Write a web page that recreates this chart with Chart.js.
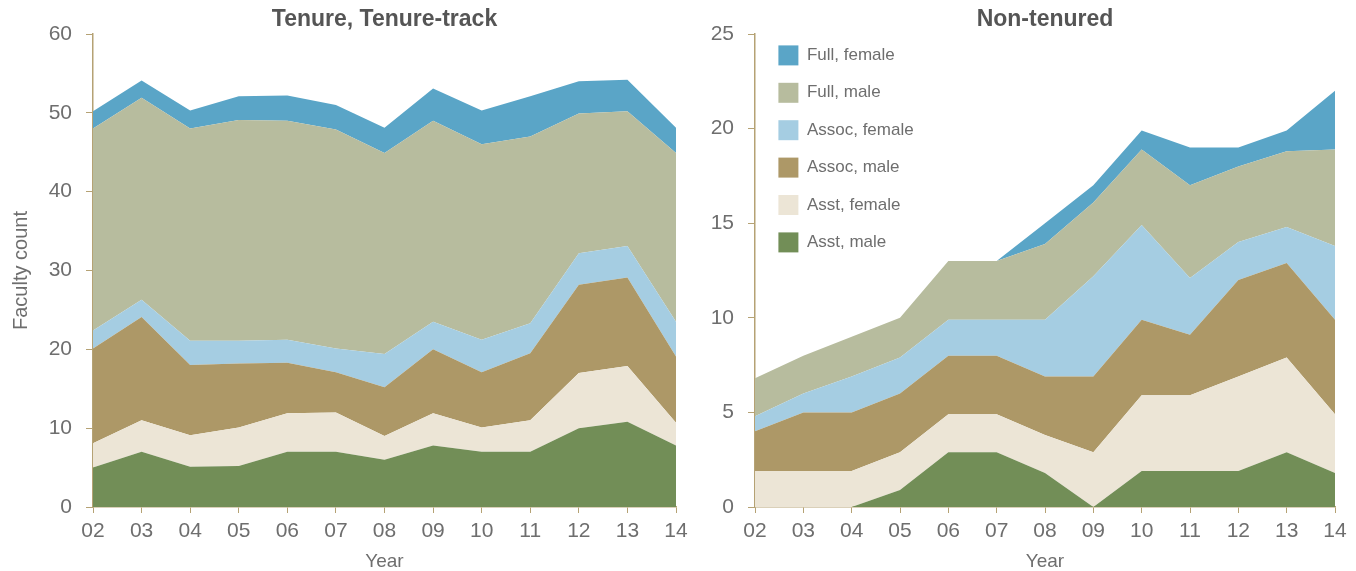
<!DOCTYPE html>
<html>
<head>
<meta charset="utf-8">
<script src="https://cdn.jsdelivr.net/npm/chart.js@4/dist/chart.umd.min.js"></script>
<style>
  html, body { margin: 0; padding: 0; background: #fff; }
  #wrap { position: relative; width: 1356px; height: 571px; }
  #wrap canvas { position: absolute; top: 0; }
</style>
</head>
<body>
<div id="wrap">
  <canvas id="tenured" width="690" height="571" style="left:0"></canvas>
  <canvas id="nontenured" width="666" height="571" style="left:690px"></canvas>
</div>
<script>
const years = ["02", "03", "04", "05", "06", "07", "08", "09", "10", "11", "12", "13", "14"];
const seriesNames = ["Asst, male", "Asst, female", "Assoc, male", "Assoc, female", "Full, male", "Full, female"];
const seriesColors = ["#728e57", "#ece5d6", "#ad9867", "#a5cde2", "#b7bc9e", "#5aa5c7"];

// tenure / tenure-track, bottom layer first
const ttAsstMale = [5, 7, 5.1, 5.2, 7, 7, 6, 7.8, 7, 7, 10, 10.8, 7.8];
const ttAsstFemale = [3.1, 4, 4, 4.9, 4.9, 5, 3, 4.1, 3.1, 4, 7, 7.1, 2.9];
const ttAssocMale = [12, 13.1, 8.9, 8.1, 6.4, 5.1, 6.2, 8.1, 7, 8.5, 11.2, 11.2, 8.4];
const ttAssocFemale = [2.3, 2.2, 3.1, 2.9, 2.9, 3, 4.2, 3.5, 4.1, 3.8, 4, 4, 4.4];
const ttFullMale = [25.6, 25.6, 26.9, 28, 27.8, 27.8, 25.5, 25.5, 24.8, 23.7, 17.7, 17.1, 21.4];
const ttFullFemale = [2.2, 2.2, 2.3, 3, 3.2, 3.1, 3.2, 4.1, 4.3, 5.1, 4.1, 4, 3.2];

// non-tenured
const ntAsstMale = [0, 0, 0, 0.9, 2.9, 2.9, 1.8, 0, 1.9, 1.9, 1.9, 2.9, 1.8];
const ntAsstFemale = [1.9, 1.9, 1.9, 2, 2, 2, 2, 2.9, 4, 4, 5, 5, 3.1];
const ntAssocMale = [2.1, 3.1, 3.1, 3.1, 3.1, 3.1, 3.1, 4, 4, 3.2, 5.1, 5, 5];
const ntAssocFemale = [0.8, 1, 1.9, 1.9, 1.9, 1.9, 3, 5.3, 5, 3, 2, 1.9, 3.9];
const ntFullMale = [2, 2, 2.1, 2.1, 3.1, 3.1, 4, 3.9, 4, 4.9, 4, 4, 5.1];
const ntFullFemale = [0, 0, 0, 0, 0, 0, 1.1, 0.9, 1, 2, 1, 1.1, 3.1];

const axisColor = "#b5a274";
const textColor = "#6e6e6e";
const fontFamily = "'Liberation Sans', Arial, sans-serif";

// title centred over the plot area
const plotTitle = {
  id: "plotTitle",
  afterDraw(chart, args, opts) {
    const { ctx, chartArea } = chart;
    ctx.save();
    ctx.font = "bold 23px " + fontFamily;
    ctx.fillStyle = "#555";
    ctx.textAlign = "center";
    ctx.textBaseline = "middle";
    ctx.fillText(opts.text, (chartArea.left + chartArea.right) / 2, 20);
    ctx.restore();
  },
};

// nudge the in-plot legend down/right a bit
const legendNudge = {
  id: "legendNudge",
  afterLayout(chart, args, opts) {
    const lg = chart.legend;
    if (!lg || !opts.dx) return;
    lg.left += opts.dx;
    lg.right += opts.dx;
    lg.top += opts.dy;
    lg.bottom += opts.dy;
  },
};

function makeChart(canvas, rows, opts) {
  const datasets = rows.map((row, i) => ({
    label: seriesNames[i],
    data: row,
    backgroundColor: seriesColors[i],
    borderWidth: 0,
    pointRadius: 0,
    pointHoverRadius: 0,
    tension: 0,
    fill: i === 0 ? "origin" : "-1",
  }));

  return new Chart(canvas, {
    type: "line",
    data: { labels: years, datasets },
    plugins: [plotTitle, legendNudge],
    options: {
      responsive: false,
      animation: false,
      layout: { padding: { top: 34, right: opts.padRight, bottom: 0, left: 0 } },
      plugins: {
        plotTitle: { text: opts.title },
        legendNudge: { dx: opts.legend ? 6 : 0, dy: 28 },
        tooltip: { enabled: false },
        legend: opts.legend
          ? {
              position: "chartArea",
              align: "start",
              reverse: true,
              labels: {
                boxWidth: 20,
                boxHeight: 20,
                padding: 17.4,
                color: textColor,
                font: { family: fontFamily, size: 17 },
              },
            }
          : { display: false },
      },
      scales: {
        x: {
          grid: { drawOnChartArea: false, tickLength: 6, color: axisColor },
          border: { color: axisColor, width: 1.5 },
          ticks: {
            color: textColor,
            font: { family: fontFamily, size: 21 },
            padding: 6,
            maxRotation: 0,
            autoSkip: false,
          },
          title: {
            display: true,
            text: "Year",
            color: textColor,
            font: { family: fontFamily, size: 19 },
            padding: { top: 0, bottom: -2 },
          },
          afterFit(s) {
            s.height = 64;
            s.paddingLeft = 0;
            s.paddingRight = 0;
          },
        },
        y: {
          stacked: true,
          min: 0,
          max: opts.max,
          grid: { drawOnChartArea: false, tickLength: 7, color: axisColor },
          border: { color: axisColor, width: 1.5 },
          ticks: {
            stepSize: opts.step,
            color: textColor,
            font: { family: fontFamily, size: 21 },
            padding: 14,
          },
          title: {
            display: !!opts.yTitle,
            text: opts.yTitle || "",
            color: textColor,
            font: { family: fontFamily, size: 20 },
            padding: { top: 9, bottom: 0 },
          },
          afterFit(s) {
            s.width = opts.yWidth;
          },
        },
      },
    },
  });
}

makeChart(
  document.getElementById("tenured"),
  [ttAsstMale, ttAsstFemale, ttAssocMale, ttAssocFemale, ttFullMale, ttFullFemale],
  { title: "Tenure, Tenure-track", max: 60, step: 10, yTitle: "Faculty count", yWidth: 93, padRight: 14, legend: false }
);

makeChart(
  document.getElementById("nontenured"),
  [ntAsstMale, ntAsstFemale, ntAssocMale, ntAssocFemale, ntFullMale, ntFullFemale],
  { title: "Non-tenured", max: 25, step: 5, yTitle: null, yWidth: 65, padRight: 21, legend: true }
);
</script>
</body>
</html>
